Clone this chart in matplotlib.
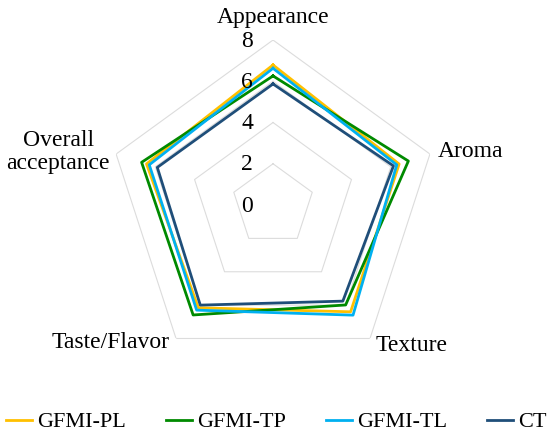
import numpy as np
import matplotlib
matplotlib.use("Agg")
import matplotlib.pyplot as plt

plt.rcParams['font.family'] = ['Liberation Serif', 'DejaVu Serif']

# sensory attributes, clockwise from top
categories = ["Appearance", "Aroma", "Texture", "Taste/Flavor", "Overall\nacceptance"]
levels = [0, 2, 4, 6, 8]

series_names = ["GFMI-PL", "GFMI-TP", "GFMI-TL", "CT"]
gfmi_pl = [6.79, 6.43, 6.40, 6.16, 6.45]
gfmi_tp = [6.26, 6.90, 5.99, 6.59, 6.70]
gfmi_tl = [6.63, 6.31, 6.60, 6.30, 6.31]
ct = [5.87, 6.14, 5.76, 6.00, 5.90]

colors = ["#FFC000", "#008A00", "#00B0F0", "#1F4E79"]

# %%
n = len(categories)
theta = np.arange(n) * 2 * np.pi / n
theta_c = np.append(theta, theta[0])

fig = plt.figure(figsize=(5.5, 4.37), dpi=100)
ax = fig.add_axes([0.1964, 0.1533, 0.6, 0.7551], projection="polar")
ax.set_theta_zero_location("N")
ax.set_theta_direction(-1)
ax.set_ylim(0, 8)
ax.grid(False)
ax.spines["polar"].set_visible(False)
ax.set_xticks([])
ax.set_yticks([])

# pentagon gridlines
for lv in levels[1:]:
    ax.plot(theta_c, [lv] * (n + 1), color="#dcdcdc", lw=0.8, zorder=1)

for vals, name, c in zip([gfmi_pl, gfmi_tp, gfmi_tl, ct], series_names, colors):
    ax.plot(theta_c, vals + vals[:1], color=c, lw=2, label=name, zorder=3)

# radial labels left of the vertical axis
for lv in levels:
    ax.annotate(str(lv), xy=(0, lv), xytext=(-26, -1), textcoords="offset pixels",
                ha="center", va="center", fontsize=17, zorder=4)

# category labels
lab_pos = [
    ((0, 17), "center", "baseline"),
    ((8, -3), "left", "baseline"),
    ((6, -13), "left", "baseline"),
    ((-6, -10), "right", "baseline"),
    ((-58, 2), "center", "center"),
]
for t, lab, (off, ha, va) in zip(theta, categories, lab_pos):
    ax.annotate(lab, xy=(t, 8), xytext=off, textcoords="offset pixels",
                ha=ha, va=va, fontsize=17, linespacing=1.1,
                multialignment="center", annotation_clip=False)

fig.legend(loc="center", bbox_to_anchor=(276 / 550, 1 - 422 / 437), ncol=4,
           frameon=False, fontsize=16, handlelength=1.2, handletextpad=0.2,
           columnspacing=1.8, borderpad=0.2)

fig.savefig("out.png", dpi=100)
